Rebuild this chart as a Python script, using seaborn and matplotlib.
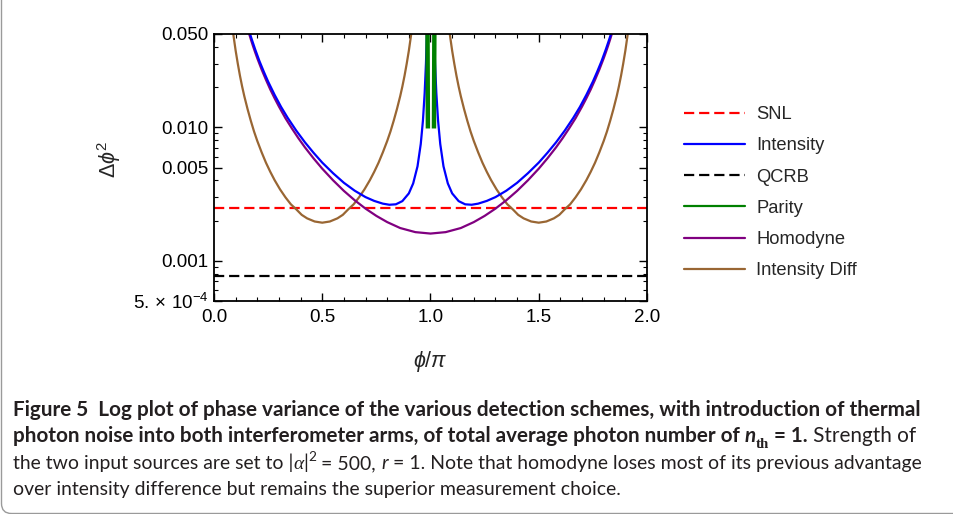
import matplotlib
matplotlib.use('Agg')
import matplotlib.pyplot as plt
import seaborn as sns
from matplotlib.lines import Line2D
from matplotlib.patches import FancyBboxPatch
from matplotlib.ticker import FixedLocator, FixedFormatter, NullFormatter
from matplotlib.transforms import IdentityTransform

# ---- values (x in units of pi) ----
snl_x = [0.0, 2.0]
snl_y = [0.0025, 0.0025]

qcrb_x = [0.0, 2.0]
qcrb_y = [0.00077, 0.00077]

intensity_x = [0.155, 0.165, 0.175, 0.19, 0.21, 0.23, 0.25, 0.28, 0.31, 0.34, 0.38, 0.42,
               0.46, 0.50, 0.55, 0.60, 0.65, 0.70, 0.74, 0.78, 0.81, 0.84, 0.87, 0.90,
               0.92, 0.94, 0.955, 0.965, 0.973, 0.979, 0.984,
               1.016, 1.021, 1.027, 1.035, 1.045, 1.06, 1.08, 1.10, 1.13, 1.16, 1.19,
               1.22, 1.26, 1.30, 1.35, 1.40, 1.45, 1.50, 1.54, 1.58, 1.62, 1.66, 1.69,
               1.72, 1.75, 1.77, 1.79, 1.81, 1.825, 1.835, 1.845]
intensity_y = [0.0579, 0.0509, 0.0453, 0.0384, 0.0313, 0.0261, 0.0220, 0.0175, 0.0142,
               0.0118, 0.00944, 0.00772, 0.00644, 0.00544, 0.00453, 0.00384, 0.00335,
               0.0030, 0.00281, 0.00268, 0.00263, 0.00265, 0.0028, 0.0032, 0.0038, 0.0051,
               0.0075, 0.0112, 0.018, 0.030, 0.055,
               0.055, 0.030, 0.018, 0.0112, 0.0075, 0.0051, 0.0038, 0.0032, 0.0028,
               0.00265, 0.00263, 0.00268, 0.00281, 0.0030, 0.00335, 0.00384, 0.00453,
               0.00544, 0.00644, 0.00772, 0.00944, 0.0118, 0.0142, 0.0175, 0.0220, 0.0261,
               0.0313, 0.0384, 0.0453, 0.0509, 0.0579]
intensity_seg = [0] * 31 + [1] * 31

parity_x = [0.986, 0.988, 1.016, 1.018]
parity_y = [0.06, 0.0098, 0.0098, 0.06]
parity_seg = [0, 0, 1, 1]

homodyne_x = [0.15, 0.16, 0.17, 0.18, 0.19, 0.20, 0.22, 0.24, 0.26, 0.28, 0.30, 0.33, 0.36,
              0.39, 0.42, 0.46, 0.50, 0.55, 0.60, 0.65, 0.70, 0.75, 0.80, 0.86, 0.93, 1.00,
              1.07, 1.14, 1.20, 1.25, 1.30, 1.35, 1.40, 1.45, 1.50, 1.54, 1.58, 1.61, 1.64,
              1.67, 1.70, 1.72, 1.74, 1.76, 1.78, 1.80, 1.81, 1.82, 1.83, 1.84, 1.85]
homodyne_y = [0.0589, 0.0516, 0.0457, 0.0407, 0.0365, 0.0329, 0.0271, 0.0227, 0.0192,
              0.0165, 0.0143, 0.0117, 0.0098, 0.00828, 0.00708, 0.00585, 0.0049, 0.00401,
              0.00334, 0.00284, 0.00246, 0.00217, 0.00195, 0.00176, 0.00164, 0.0016,
              0.00164, 0.00176, 0.00195, 0.00217, 0.00246, 0.00284, 0.00334, 0.00401,
              0.0049, 0.00585, 0.00708, 0.00828, 0.0098, 0.0117, 0.0143, 0.0165, 0.0192,
              0.0227, 0.0271, 0.0329, 0.0365, 0.0407, 0.0457, 0.0516, 0.0589]

diff_x = [0.08, 0.09, 0.10, 0.11, 0.12, 0.13, 0.14, 0.155, 0.17, 0.185, 0.20, 0.22, 0.24,
          0.26, 0.28, 0.305, 0.33, 0.355, 0.38, 0.405, 0.43, 0.465, 0.50,
          0.535, 0.57, 0.595, 0.62, 0.645, 0.67, 0.695, 0.72, 0.74, 0.76, 0.78, 0.80,
          0.815, 0.83, 0.845, 0.86, 0.87, 0.88, 0.89, 0.90, 0.91, 0.92,
          1.08, 1.09, 1.10, 1.11, 1.12, 1.13, 1.14, 1.155, 1.17, 1.185, 1.20, 1.22, 1.24,
          1.26, 1.28, 1.305, 1.33, 1.355, 1.38, 1.405, 1.43, 1.465, 1.50,
          1.535, 1.57, 1.595, 1.62, 1.645, 1.67, 1.695, 1.72, 1.74, 1.76, 1.78, 1.80,
          1.815, 1.83, 1.845, 1.86, 1.87, 1.88, 1.89, 1.90, 1.91, 1.92]
diff_y = [0.0658, 0.0487, 0.0375, 0.0299, 0.0243, 0.0202, 0.0171, 0.0137, 0.0112, 0.0093,
          0.0079, 0.0065, 0.00543, 0.00464, 0.00402, 0.00343, 0.00299, 0.00265, 0.00243,
          0.00221, 0.00208, 0.00197, 0.00193,
          0.00197, 0.00208, 0.00221, 0.00243, 0.00265, 0.00299, 0.00343, 0.00402,
          0.00464, 0.00543, 0.0065, 0.0079, 0.0093, 0.0112, 0.0137, 0.0171, 0.0202,
          0.0243, 0.0299, 0.0375, 0.0487, 0.0658] * 2
diff_seg = [0] * 45 + [1] * 45

legend_labels = ['SNL', 'Intensity', 'QCRB', 'Parity', 'Homodyne', 'Intensity Diff']

x_major = [0.0, 0.5, 1.0, 1.5, 2.0]
x_major_labels = ['0.0', '0.5', '1.0', '1.5', '2.0']
x_minor = [0.1, 0.2, 0.3, 0.4, 0.6, 0.7, 0.8, 0.9, 1.1, 1.2, 1.3, 1.4, 1.6, 1.7, 1.8, 1.9]
y_major = [0.0005, 0.001, 0.005, 0.01, 0.05]
y_major_labels = [r'5.$\,\times\,$10$^{-4}$', '0.001', '0.005', '0.010', '0.050']
y_minor = [0.0006, 0.0007, 0.0008, 0.0009, 0.002, 0.003, 0.004, 0.006, 0.007, 0.008,
           0.009, 0.02, 0.03, 0.04]

# ---- style ----
sns.set_style('ticks')
plt.rcParams['font.family'] = ['Liberation Sans', 'DejaVu Sans']
plt.rcParams['mathtext.fontset'] = 'custom'
plt.rcParams['mathtext.rm'] = 'Liberation Sans'
plt.rcParams['mathtext.it'] = 'Liberation Sans:italic'
plt.rcParams['mathtext.fallback'] = 'stixsans'

RED, BLUE, BLACK = '#ff0000', '#0000ff', '#000000'
GREEN, PURPLE, BROWN = '#008000', '#800080', '#996633'
DASH = (0, (4.6, 2.2))

fig = plt.figure(figsize=(9.54, 5.14), dpi=100)
ax = fig.add_axes([214 / 954, 213 / 514, 433 / 954, 267 / 514])

series = [
    (snl_x, snl_y, [0, 0], RED, DASH, 1.6),
    (qcrb_x, qcrb_y, [0, 0], BLACK, DASH, 1.6),
    (diff_x, diff_y, diff_seg, BROWN, '-', 1.6),
    (homodyne_x, homodyne_y, [0] * len(homodyne_x), PURPLE, '-', 1.6),
    (intensity_x, intensity_y, intensity_seg, BLUE, '-', 1.6),
    (parity_x, parity_y, parity_seg, GREEN, '-', 3.2),
]
for xs, ys, seg, color, ls, lw in series:
    sns.lineplot(x=xs, y=ys, units=seg, estimator=None, sort=False, ax=ax,
                 color=color, linestyle=ls, linewidth=lw, solid_capstyle='butt')

ax.set_yscale('log')
ax.set_xlim(0, 2)
ax.set_ylim(0.0005, 0.05)

ax.xaxis.set_major_locator(FixedLocator(x_major))
ax.xaxis.set_major_formatter(FixedFormatter(x_major_labels))
ax.xaxis.set_minor_locator(FixedLocator(x_minor))
ax.yaxis.set_major_locator(FixedLocator(y_major))
ax.yaxis.set_major_formatter(FixedFormatter(y_major_labels))
ax.yaxis.set_minor_locator(FixedLocator(y_minor))
ax.yaxis.set_minor_formatter(NullFormatter())

ax.tick_params(which='both', direction='in', top=True, right=True, colors='black',
               labelsize=13.5)
ax.tick_params(which='major', length=5.5, width=1.0)
ax.tick_params(which='minor', length=3, width=0.8)
ax.tick_params(axis='x', pad=6)
ax.tick_params(axis='y', pad=4)
for sp in ax.spines.values():
    sp.set_color('black')
    sp.set_linewidth(1.3)

ax.set_ylabel(r'$\Delta\phi^2$', fontsize=15.5, rotation=90)
ax.yaxis.set_label_coords(-0.21, 0.53)
ax.set_xlabel(r'$\phi/\pi$', fontsize=15.5)
ax.xaxis.set_label_coords(0.5, -0.18)

handles = [
    Line2D([], [], color=RED, linestyle=DASH, linewidth=1.6),
    Line2D([], [], color=BLUE, linewidth=1.6),
    Line2D([], [], color=BLACK, linestyle=DASH, linewidth=1.6),
    Line2D([], [], color=GREEN, linewidth=1.6),
    Line2D([], [], color=PURPLE, linewidth=1.6),
    Line2D([], [], color=BROWN, linewidth=1.6),
]
fig.legend(handles, legend_labels, loc='upper left',
           bbox_to_anchor=(684 / 954, 1 - 106 / 514), frameon=False,
           fontsize=13.2, handlelength=3.35, handletextpad=0.6, labelspacing=0.78,
           borderpad=0, borderaxespad=0)

# ---- caption ----
CAP_FONT = 'Lato'
CAP_COLOR = '#231f20'
renderer = fig.canvas.get_renderer()


def caption_line(pieces, baseline, size, target=None):
    def place(fs):
        arts = []
        x = 13.0
        for txt, weight, style, scale, dy, family in pieces:
            t = fig.text(x, baseline + dy * fs * 100 / 72, txt,
                         transform=IdentityTransform(), fontsize=fs * scale,
                         fontweight=weight, fontstyle=style, family=family,
                         color=CAP_COLOR, ha='left', va='baseline')
            arts.append(t)
            x = t.get_window_extent(renderer).x1
        return arts, x - 13.0

    arts, w = place(size)
    if target is not None:
        for a in arts:
            a.remove()
        size = size * target / w
        arts, w = place(size)
    return size


B, N = 'bold', 'normal'
line1 = [('Figure 5  Log plot of phase variance of the various detection schemes, '
          'with introduction of thermal', B, N, 1, 0, CAP_FONT)]
line2 = [('photon noise into both interferometer arms, of total average photon number of ',
          B, N, 1, 0, CAP_FONT),
         ('n', B, 'italic', 1, 0, CAP_FONT),
         ('th', B, N, 0.72, -0.28, 'Liberation Serif'),
         (' = 1.', B, N, 1, 0, CAP_FONT),
         (' Strength of', N, N, 1, 0, CAP_FONT)]
line3 = [('the two input sources are set to |', N, N, 1, 0, CAP_FONT),
         ('\u03b1', N, 'italic', 1, 0, 'Liberation Serif'),
         ('|', N, N, 1, 0, CAP_FONT),
         ('2', N, N, 0.7, 0.42, CAP_FONT),
         (' = 500, ', N, N, 1, 0, CAP_FONT),
         ('r', N, 'italic', 1, 0, CAP_FONT),
         (' = 1. Note that homodyne loses most of its previous advantage', N, N, 1, 0,
          CAP_FONT)]
line4 = [('over intensity difference but remains the superior measurement choice.',
          N, N, 1, 0, CAP_FONT)]

caption_line(line1, 514 - 416, 12.5, target=913)
caption_line(line2, 514 - 442.5, 12.5, target=907)
s3 = caption_line(line3, 514 - 469, 12.5, target=912)
caption_line(line4, 514 - 495.5, s3)

# rounded frame around the figure panel
fig.patches.append(FancyBboxPatch((1.5, 0.5), 1000, 600,
                                  boxstyle='round,pad=0,rounding_size=10',
                                  transform=IdentityTransform(), fill=False,
                                  edgecolor='#9a9a9a', linewidth=1.0))

fig.savefig('out.png', dpi=100)
